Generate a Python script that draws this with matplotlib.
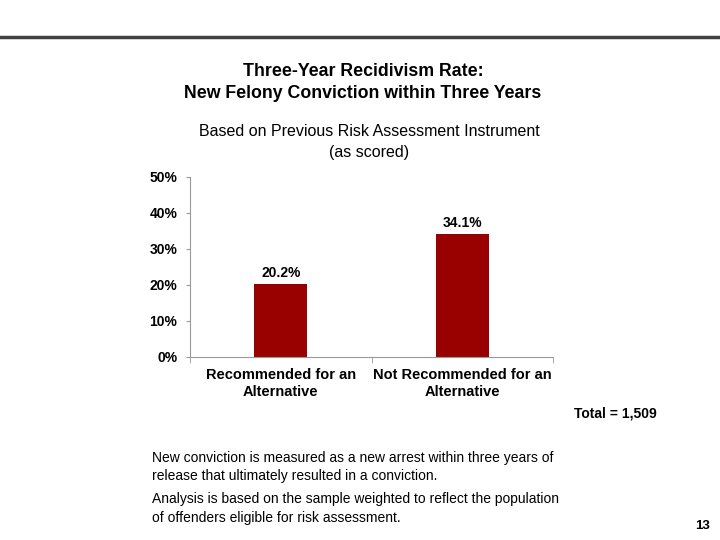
import matplotlib
matplotlib.use('Agg')
import matplotlib.pyplot as plt
from matplotlib.ticker import FuncFormatter

plt.rcParams['font.family'] = ['Liberation Sans', 'DejaVu Sans']

categories = ['Recommended for an\nAlternative', 'Not Recommended for an\nAlternative']
rates = [20.2, 34.1]
yticks = [0, 10, 20, 30, 40, 50]

fig = plt.figure(figsize=(7.2, 5.4), dpi=100)

# top rule
fig.add_artist(plt.Line2D([0, 1], [1 - 37/540, 1 - 37/540], color='#404040', lw=2.5))

fig.text(363/720, 1 - 72/540, 'Three-Year Recidivism Rate:', ha='center', va='center',
         fontsize=12.8, fontweight='bold')
fig.text(363/720, 1 - 93/540, 'New Felony Conviction within Three Years', ha='center', va='center',
         fontsize=12.8, fontweight='bold')
fig.text(369/720, 1 - 132/540, 'Based on Previous Risk Assessment Instrument', ha='center', va='center',
         fontsize=11.5)
fig.text(369/720, 1 - 152/540, '(as scored)', ha='center', va='center', fontsize=11.5)

ax = fig.add_axes([190/720, 1 - 357/540, 363/720, 180/540])
x = list(range(len(categories)))
bars = ax.bar(x, rates, width=0.29, color='#990000')
for b, v in zip(bars, rates):
    ax.text(b.get_x() + b.get_width()/2, v + 1.3, f'{v:.1f}%', ha='center', va='bottom',
            fontsize=10, fontweight='bold')

ax.set_xlim(-0.5, 1.5)
ax.set_ylim(0, 50)
ax.set_yticks(yticks)
ax.yaxis.set_major_formatter(FuncFormatter(lambda v, p: f'{v:.0f}%'))
ax.set_xticks(x)
ax.set_xticklabels(categories, fontsize=10.5, fontweight='bold', linespacing=1.25)
ax.set_xticks([-0.5, 0.5, 1.5], minor=True)
ax.tick_params(axis='x', which='major', length=0, pad=8)
ax.tick_params(axis='x', which='minor', length=4, color='#999999', direction='out')
ax.tick_params(axis='y', length=3, color='#999999', labelsize=10, pad=6)
for lab in ax.get_yticklabels():
    lab.set_fontweight('bold')
for s in ['top', 'right']:
    ax.spines[s].set_visible(False)
for s in ['left', 'bottom']:
    ax.spines[s].set_color('#999999')

fig.text(574/720, 1 - 413/540, 'Total = 1,509', ha='left', va='center', fontsize=10, fontweight='bold')
fig.text(152/720, 1 - 467/540,
         'New conviction is measured as a new arrest within three years of\nrelease that ultimately resulted in a conviction.',
         ha='left', va='center', fontsize=10, linespacing=1.4)
fig.text(152/720, 1 - 508.5/540,
         'Analysis is based on the sample weighted to reflect the population\nof offenders eligible for risk assessment.',
         ha='left', va='center', fontsize=10, linespacing=1.4)
fig.text(710/720, 1 - 526/540, '13', ha='right', va='center', fontsize=9.5, fontweight='bold')

fig.savefig('out.png', dpi=100)
